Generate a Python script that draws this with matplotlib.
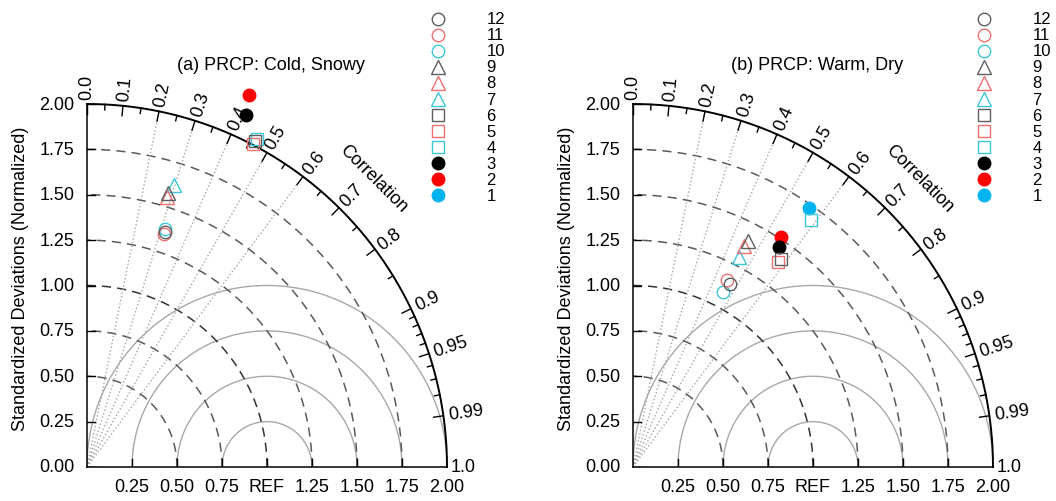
import numpy as np
import matplotlib
matplotlib.use('Agg')
import matplotlib.pyplot as plt

plt.rcParams['font.family'] = ['Liberation Sans', 'DejaVu Sans']

# legend labels / case numbers, 1..12
labels = ['1', '2', '3', '4', '5', '6', '7', '8', '9', '10', '11', '12']

# (a) cold, snowy : normalized std and correlation for each case (None = not on chart)
std_a = [None, 2.239, 2.131, 2.039, 2.005, 2.024, 1.628, 1.554, 1.575, 1.380, 1.352, 1.364]
corr_a = [None, 0.402, 0.414, 0.463, 0.460, 0.461, 0.298, 0.285, 0.284, 0.312, 0.318, 0.317]

# (b) warm, dry
std_b = [1.729, 1.512, 1.457, 1.682, 1.385, 1.409, 1.297, 1.364, 1.400, 1.089, 1.157, 1.143]
corr_b = [0.566, 0.544, 0.557, 0.588, 0.580, 0.582, 0.455, 0.453, 0.455, 0.461, 0.453, 0.471]

titles = ['(a) PRCP: Cold, Snowy', '(b) PRCP: Warm, Dry']

GRAY = '#5f5f5f'
RED = '#f07070'
CYAN = '#3cc8dc'
# marker, color, filled
styles = [('o', '#00b4f0', True), ('o', '#ff0000', True), ('o', 'black', True),
          ('s', CYAN, False), ('s', RED, False), ('s', GRAY, False),
          ('^', CYAN, False), ('^', RED, False), ('^', GRAY, False),
          ('o', CYAN, False), ('o', RED, False), ('o', GRAY, False)]

FS = 13


def draw_marker(ax, x, y, k):
    m, c, filled = styles[k]
    ms = 9 if m != '^' else 9.5
    if filled:
        ax.plot(x, y, marker=m, ms=ms, color=c, mec=c, ls='none', clip_on=False, zorder=5)
    else:
        ax.plot(x, y, marker=m, ms=ms, mfc='none', mec=c, mew=1.0, ls='none', clip_on=False, zorder=5)


def draw_panel(ax, title, std, corr):
    ax.set_xlim(0, 2)
    ax.set_ylim(0, 2)
    ax.axis('off')
    t = np.linspace(0, np.pi / 2, 300)

    # rms arcs around REF
    for r in [0.25, 0.5, 0.75, 1.0]:
        tt = np.linspace(0, np.pi, 300)
        ax.plot(1 + r * np.cos(tt), r * np.sin(tt), color='#a8a8a8', lw=1.0, zorder=1)

    # std arcs
    for r in [0.5, 0.75, 1.0, 1.25, 1.5, 1.75]:
        col = '#333333' if r == 1.0 else '#5a5a5a'
        ax.plot(r * np.cos(t), r * np.sin(t), color=col, lw=1.1, dashes=(6, 4), zorder=1)

    # correlation rays
    for c in [0.2, 0.3, 0.4, 0.5, 0.6]:
        th = np.arccos(c)
        ax.plot([0, 2 * np.cos(th)], [0, 2 * np.sin(th)], color='#a5a5a5', lw=1.0, ls=':', zorder=1)

    # frame
    ax.plot(2 * np.cos(t), 2 * np.sin(t), color='black', lw=1.4, clip_on=False, zorder=3)
    ax.plot([0, 0], [0, 2], color='black', lw=1.1, clip_on=False, zorder=3)
    ax.plot([0, 2], [0, 0], color='black', lw=1.1, clip_on=False, zorder=3)

    # axis ticks and labels
    for v in np.arange(0, 2.01, 0.25):
        ax.plot([0, 0.045], [v, v], color='black', lw=1.0, zorder=3)
        ax.text(-0.07, v, '%.2f' % v, ha='right', va='center', fontsize=FS)
        if v > 0:
            ax.plot([v, v], [0, 0.045], color='black', lw=1.0, zorder=3)
            lab = 'REF' if v == 1.0 else '%.2f' % v
            ax.text(v, -0.11, lab, ha='center', va='center', fontsize=FS)
    ax.text(-0.37, 1.04, 'Standardized Deviations (Normalized)', rotation=90,
            ha='center', va='center', fontsize=FS)

    # correlation ticks
    major = [0.0, 0.1, 0.2, 0.3, 0.4, 0.5, 0.6, 0.7, 0.8, 0.9, 0.95, 0.99]
    minor = list(np.arange(0.05, 0.9, 0.1)) + [0.91, 0.92, 0.93, 0.94, 0.96, 0.97, 0.98]
    for c in major + minor:
        th = np.arccos(c)
        ln = 0.055 if c in major else 0.03
        ax.plot([2 * np.cos(th), (2 - ln) * np.cos(th)], [2 * np.sin(th), (2 - ln) * np.sin(th)],
                color='black', lw=1.0, clip_on=False, zorder=3)
    for c in major:
        th = np.arccos(c)
        lab = '%.1f' % c if c not in (0.95, 0.99) else '%.2f' % c
        ax.text(2.03 * np.cos(th), 2.03 * np.sin(th), lab, rotation=np.degrees(th),
                rotation_mode='anchor', ha='left', va='center', fontsize=FS)
    ax.text(2.02, 0, '1.0', ha='left', va='center', fontsize=FS)
    ang = np.radians(45)
    ax.text(2.25 * np.cos(ang), 2.25 * np.sin(ang), 'Correlation', rotation=-45,
            ha='center', va='center', fontsize=FS)

    ax.text(1.02, 2.22, title, ha='center', va='center', fontsize=FS)

    # cases
    for k in range(len(labels)):
        if std[k] is None:
            continue
        th = np.arccos(corr[k])
        draw_marker(ax, std[k] * np.cos(th), std[k] * np.sin(th), k)

    # legend, case 12 on top
    for i, k in enumerate(range(len(labels) - 1, -1, -1)):
        y = 2.47 - i * 0.0885
        draw_marker(ax, 1.95, y, k)
        ax.text(2.22, y, labels[k], ha='left', va='center', fontsize=12)


fig = plt.figure(figsize=(10.56, 5.02), dpi=100)
ax1 = fig.add_axes([87 / 1056, 34 / 502, 360 / 1056, 363 / 502])
ax2 = fig.add_axes([633 / 1056, 34 / 502, 360 / 1056, 363 / 502])
draw_panel(ax1, titles[0], std_a, corr_a)
draw_panel(ax2, titles[1], std_b, corr_b)

fig.savefig('out.png', dpi=100)
